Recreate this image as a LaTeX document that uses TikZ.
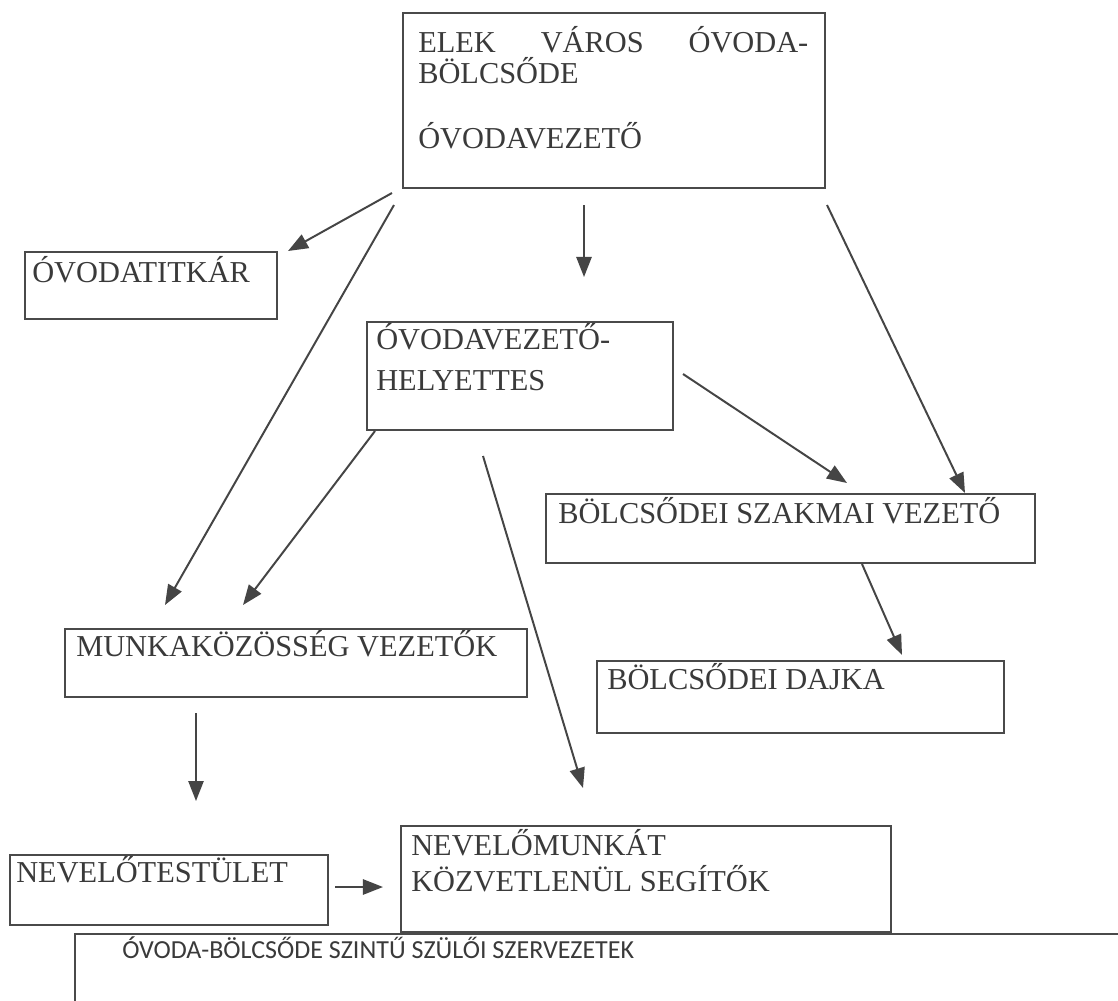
\documentclass[tikz,border=0pt]{standalone}
\usepackage{fontspec}
\setmainfont{Liberation Serif}
\newfontfamily\calibrifont{Carlito}
\usetikzlibrary{arrows.meta,fit}
\definecolor{boxc}{HTML}{4A4A4A}
\definecolor{txtc}{HTML}{3A3A3A}
\definecolor{arrc}{HTML}{454545}
\begin{document}
\begin{tikzpicture}[x=0.025cm,y=-0.025cm,
  box/.style={draw=boxc, line width=1.2pt, inner sep=0pt, rectangle},
  txt/.style={anchor=base west, inner sep=0pt, text=txtc, font=\fontsize{21.6}{26}\selectfont},
  sanstxt/.style={anchor=base west, inner sep=0pt, text=txtc, font=\calibrifont\fontsize{18.5}{22}\selectfont},
  arr/.style={draw=arrc, line width=1.4pt, -{Triangle[length=0.5cm,width=0.38cm]}}]
\useasboundingbox (0,0) rectangle (1118,1000);
\clip (0,0) rectangle (1118,1000);
\fill[white] (0,0) rectangle (1118,1000);

% boxes
\node[box, fit={(403,13) (825,188)}] (top) {};
\node[box, fit={(25,252) (277,319)}] (titkar) {};
\node[box, fit={(367,322) (673,430)}] (helyettes) {};
\node[box, fit={(546,494) (1035,563)}] (szakmai) {};
\node[box, fit={(65,629) (527,697)}] (munka) {};
\node[box, fit={(597,661) (1004,733)}] (dajka) {};
\node[box, fit={(10,855) (328,925)}] (testulet) {};
\node[box, fit={(401,826) (891,932)}] (segitok) {};
\node[box, fit={(75,934) (1140,1020)}] (szulo) {};

% texts
\node[txt] (topt1) at (418,52) {\makebox[9.75cm][l]{ELEK\hfill VÁROS\hfill ÓVODA-}};
\node[txt] (topt2) at (418,83) {BÖLCSŐDE};
\node[txt] (topt3) at (418,148) {ÓVODAVEZETŐ};
\node[txt] (titkart) at (32,282) {ÓVODATITKÁR};
\node[txt] (helyt1) at (376,349) {ÓVODAVEZETŐ-};
\node[txt] (helyt2) at (376,390) {HELYETTES};
\node[txt] (szakmait) at (558,523) {BÖLCSŐDEI SZAKMAI VEZETŐ};
\node[txt] (munkat) at (76,656) {MUNKAKÖZÖSSÉG VEZETŐK};
\node[txt] (dajkat) at (607,689) {BÖLCSŐDEI DAJKA};
\node[txt] (testulett) at (16,882) {NEVELŐTESTÜLET};
\node[txt] (segitokt1) at (411,855) {NEVELŐMUNKÁT};
\node[txt] (segitokt2) at (411,891) {KÖZVETLENÜL SEGÍTŐK};
\node[sanstxt] (szulot) at (122,958) {ÓVODA-BÖLCSŐDE SZINTŰ SZÜLŐI SZERVEZETEK};

% connector end points
\coordinate (a1s) at (392,193); \coordinate (a1e) at (288,251);
\coordinate (a2s) at (394,205); \coordinate (a2e) at (165,605);
\coordinate (a3s) at (584,205); \coordinate (a3e) at (584,277);
\coordinate (a4s) at (827,205); \coordinate (a4e) at (965,493);
\coordinate (a5s) at (683,374); \coordinate (a5e) at (847,483);
\coordinate (a6s) at (375,431); \coordinate (a6e) at (243,605);
\coordinate (a7s) at (483,456); \coordinate (a7e) at (583,788);
\coordinate (a8s) at (862,564); \coordinate (a8e) at (902,655);
\coordinate (a9s) at (196,713); \coordinate (a9e) at (196,801);
\coordinate (a10s) at (335,887); \coordinate (a10e) at (383,887);

% connectors
\draw[arr] (a1s) -- (a1e);
\draw[arr] (a2s) -- (a2e);
\draw[arr] (a3s) -- (a3e);
\draw[arr] (a4s) -- (a4e);
\draw[arr] (a5s) -- (a5e);
\draw[arr] (a6s) -- (a6e);
\draw[arr] (a7s) -- (a7e);
\draw[arr] (a8s) -- (a8e);
\draw[arr] (a9s) -- (a9e);
\draw[arr] (a10s) -- (a10e);
\end{tikzpicture}
\end{document}
